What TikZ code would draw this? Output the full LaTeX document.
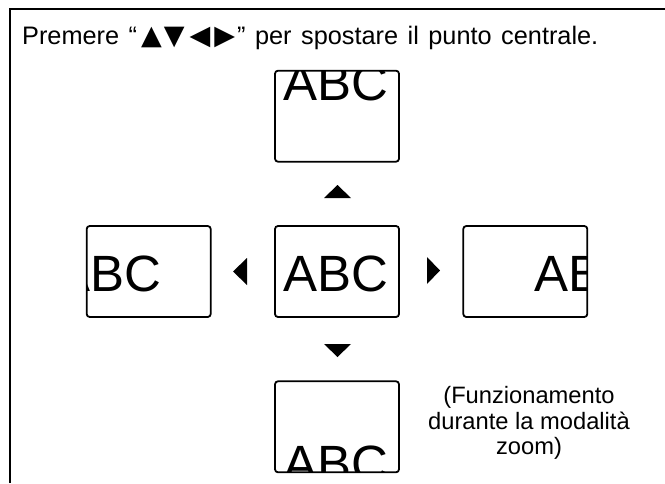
\documentclass[tikz,border=0pt]{standalone}
\usepackage{fontspec}
\setmainfont{Liberation Sans}
\newfontfamily\symfont{DejaVu Sans}
\usetikzlibrary{positioning,calc}

\tikzset{
  screen/.style={draw, line width=1.8pt, rounded corners=3pt,
    minimum width=124pt, minimum height=91pt, inner sep=0pt,
    path picture={\node[abc] at ($(path picture bounding box.center)+(#1)$) {ABC};}},
  abc/.style={anchor=center, inner sep=0pt, font=\fontsize{51}{51}\selectfont},
  caption/.style={align=center, inner sep=0pt, font=\fontsize{23.7}{25.7}\selectfont},
}

\begin{document}
\begin{tikzpicture}[x=1pt, y=-1pt]
\useasboundingbox (0,0) rectangle (665,483);
\draw[line width=1.6pt] (10,483) -- (10,9) -- (665,9);

\node[anchor=base west, inner sep=0pt, font=\fontsize{25.3}{28}\selectfont] (title) at (22,44)
  {\spaceskip=9.5pt\relax Premere “\kern4pt{\symfont\fontsize{27}{27}\selectfont ▲\kern2pt▼\kern5pt◀\kern4pt▶}\kern2pt” per spostare il punto centrale.};

% screens
\node[screen={-1.5,2}] (mid) at (337,271.5) {};
\node[screen={-1.5,-33.5}, above=62.5pt of mid] (up) {};
\node[screen={-1.5,37}, below=62.5pt of mid] (down) {};
\node[screen={-40,2}, left=62.5pt of mid] (left) {};
\node[screen={62,2}, right=62.5pt of mid] (right) {};

% direction marks
\fill (324,198) -- (351,198) -- (337.5,185) -- cycle;
\fill (324,344) -- (351,344) -- (337.5,357) -- cycle;
\fill (247,258) -- (247,285) -- (233,271.5) -- cycle;
\fill (427,257) -- (427,284) -- (440,270.5) -- cycle;

\node[caption] (note) at (529,423) {(Funzionamento\\durante la modalità\\zoom)};
\end{tikzpicture}
\end{document}
